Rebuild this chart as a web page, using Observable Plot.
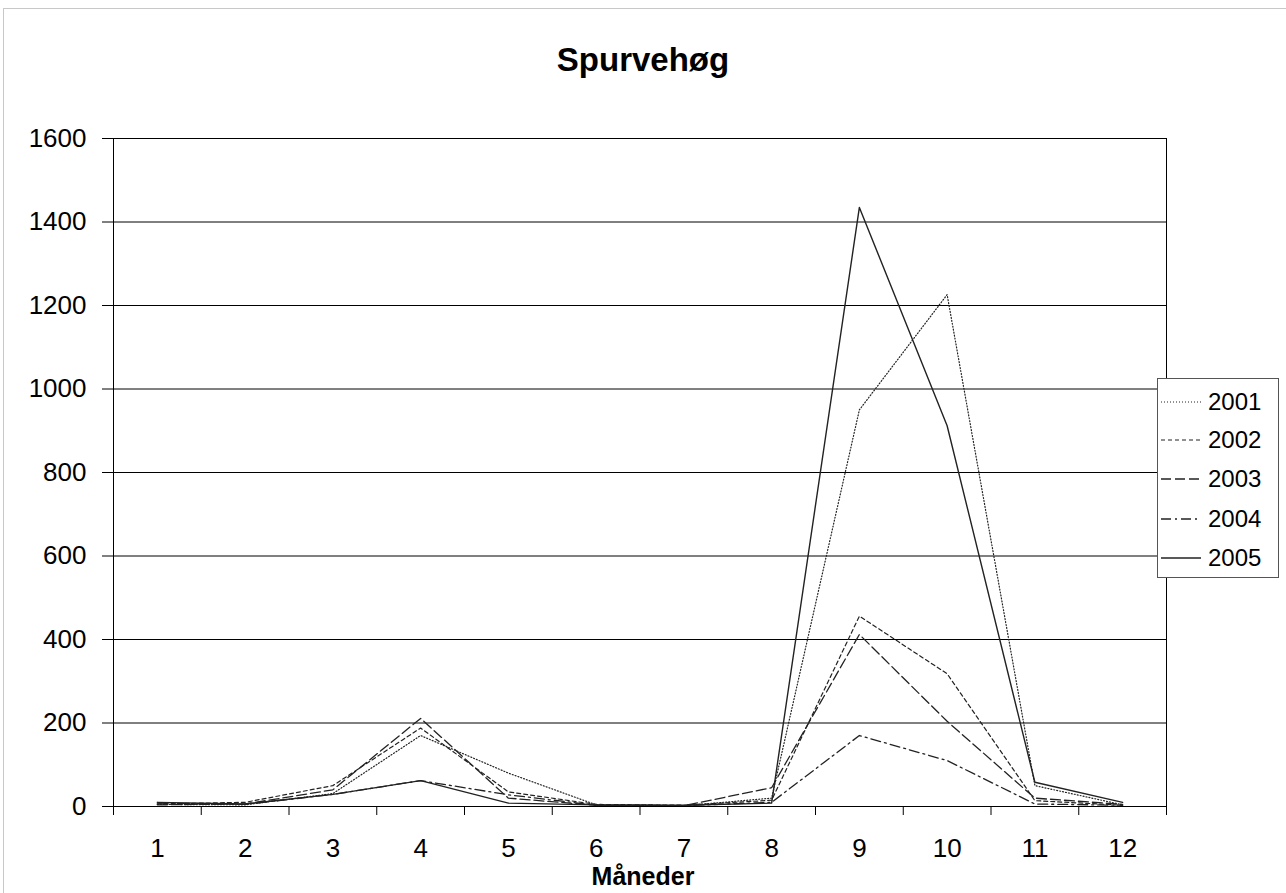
<!DOCTYPE html>
<html>
<head>
<meta charset="utf-8">
<script src="https://cdn.jsdelivr.net/npm/d3@7"></script>
<script src="https://cdn.jsdelivr.net/npm/@observablehq/plot@0.6"></script>
<style>
  body { margin: 0; background: #fff; font-family: "Liberation Sans", Arial, sans-serif; }
  #wrap { position: relative; width: 1286px; height: 893px; overflow: hidden; }
  #frame { position: absolute; left: 3px; top: 8px; width: 1290px; height: 900px; border: 1px solid #c8c8c8; box-sizing: border-box; }
  #title { position: absolute; left: 0; width: 1286px; top: 40px; text-align: center; font-weight: bold; font-size: 33px; line-height: 40px; }
  #xlabel { position: absolute; left: 0; width: 1286px; top: 861px; text-align: center; font-weight: bold; font-size: 25px; line-height: 30px; }
  #chart { position: absolute; left: 0; top: 0; }
  #legend { position: absolute; left: 1157px; top: 378px; width: 122px; height: 200px; border: 1px solid #555; background: #fff; box-sizing: border-box; }
  .item { position: absolute; left: 0; height: 30px; font-size: 24px; display: flex; align-items: center; }
  .item svg { margin-left: 3px; margin-right: 7px; }
</style>
</head>
<body>
<div id="wrap">
  <div id="frame"></div>
  <div id="chart"></div>
  <div id="title">Spurvehøg</div>
  <div id="xlabel">Måneder</div>
  <div id="legend"></div>
</div>
<script>
const months = [1,2,3,4,5,6,7,8,9,10,11,12];
const years = ["2001","2002","2003","2004","2005"];
const v2001 = [5, 4, 31, 170, 80, 4, 2, 20, 950, 1226, 50, 4];
const v2002 = [6, 10, 50, 188, 35, 5, 3, 15, 456, 318, 14, 3];
const v2003 = [4, 6, 40, 211, 20, 3, 2, 45, 412, 204, 20, 5];
const v2004 = [8, 5, 29, 62, 28, 3, 2, 10, 170, 110, 6, 3];
const v2005 = [10, 6, 29, 62, 8, 4, 3, 8, 1435, 912, 58, 10];
const yTicks = [0,200,400,600,800,1000,1200,1400,1600];

const seriesValues = [v2001, v2002, v2003, v2004, v2005];
const dashes = {"2001": "1,2", "2002": "4,3", "2003": "10,4", "2004": "10,4,2,4", "2005": null};
const widths = {"2001": 1.2, "2002": 1.2, "2003": 1.3, "2004": 1.3, "2005": 1.4};

const data = [];
years.forEach((y, i) => months.forEach((m, j) => data.push({year: y, month: m, value: seriesValues[i][j]})));
const boundaries = months.map(m => m - 0.5).concat([months[months.length - 1] + 0.5]);

const lineMarks = years.map(y => Plot.line(data.filter(d => d.year === y), {
  x: "month", y: "value", stroke: "#222", strokeWidth: widths[y],
  strokeDasharray: dashes[y] || undefined
}));

const plot = Plot.plot({
  width: 1286, height: 893,
  marginLeft: 113, marginRight: 120, marginTop: 138, marginBottom: 87,
  style: {fontFamily: "Liberation Sans, Arial, sans-serif", fontSize: "26px", background: "transparent", color: "#000"},
  x: {type: "linear", domain: [0.5, 12.5]},
  y: {domain: [0, 1600]},
  marks: [
    Plot.ruleY(yTicks, {stroke: "#000", strokeWidth: 1}),
    Plot.frame({stroke: "#000"}),
    Plot.axisY(yTicks, {tickSize: 11, tickPadding: 16, label: null, fontSize: 26, tickFormat: d => String(d)}),
    Plot.axisX(boundaries, {tickSize: 9, tickFormat: () => "", label: null}),
    Plot.axisX(months, {tickSize: 0, tickPadding: 32, label: null, fontSize: 26, tickFormat: d => String(d)}),
    ...lineMarks,
    Plot.ruleY([0], {stroke: "#000", strokeWidth: 1.2})
  ]
});
document.getElementById("chart").appendChild(plot);

const legend = document.getElementById("legend");
const tops = [8, 46, 85, 125, 164];
years.forEach((y, i) => {
  const div = document.createElement("div");
  div.className = "item";
  div.style.top = tops[i] + "px";
  const d = dashes[y] ? `stroke-dasharray="${dashes[y]}"` : "";
  div.innerHTML = `<svg width="40" height="10"><line x1="0" y1="5" x2="40" y2="5" stroke="#222" stroke-width="${widths[y]}" ${d}/></svg><span>${y}</span>`;
  legend.appendChild(div);
});
</script>
</body>
</html>
